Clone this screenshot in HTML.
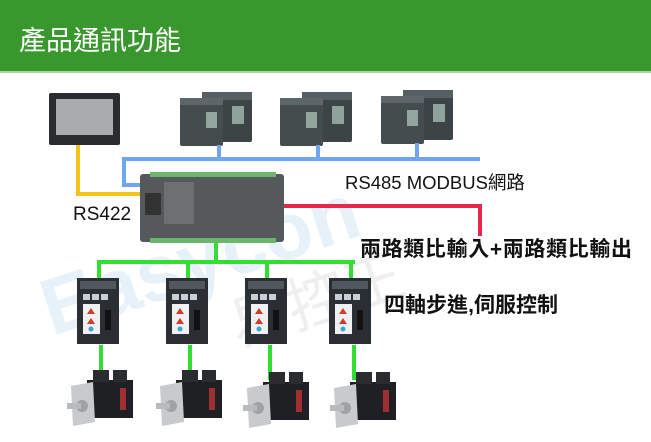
<!DOCTYPE html>
<html><head><meta charset="utf-8"><style>
html,body{margin:0;padding:0;background:#fff;width:651px;height:442px;overflow:hidden}
svg text{font-family:"Liberation Sans","Noto Sans CJK TC",sans-serif}
</style></head><body>
<svg width="651" height="442" viewBox="0 0 651 442" xmlns="http://www.w3.org/2000/svg">
<defs>
<g id="vfd">
  <rect x="22" y="0" width="50" height="50" rx="2" fill="#3d4446"/>
  <rect x="22" y="0" width="50" height="8" fill="#566062"/>
  <rect x="52" y="14" width="12" height="18" fill="#8fa39b"/>
  <rect x="0" y="6" width="43" height="48" rx="2" fill="#454c4e"/>
  <rect x="0" y="6" width="43" height="7" fill="#5d6769"/>
  <rect x="26" y="20" width="11" height="16" fill="#93a69e"/>
</g>
<g id="drv">
  <rect x="0" y="0" width="42" height="66" fill="#2b2e33"/>
  <rect x="3" y="3" width="36" height="8" fill="#51575f"/>
  <rect x="6" y="16" width="7" height="6" fill="#c9cfd6"/><rect x="15" y="16" width="7" height="6" fill="#c9cfd6"/><rect x="24" y="16" width="7" height="6" fill="#c9cfd6"/>
  <rect x="6" y="26" width="17" height="30" fill="#eef0f2"/>
  <polygon points="14,30 18,36 10,36" fill="#d23a2a"/><polygon points="14,40 18,46 10,46" fill="#d23a2a"/>
  <circle cx="14" cy="51" r="2.5" fill="#3aa6d8"/>
  <rect x="28" y="32" width="6" height="20" fill="#111"/>
</g>
<g id="mot">
  <rect x="20" y="10" width="46" height="38" fill="#1e2023"/>
  <rect x="26" y="0" width="16" height="12" fill="#2a2c30"/><rect x="46" y="0" width="14" height="12" fill="#2a2c30"/>
  <rect x="53" y="18" width="6" height="22" fill="#a03030"/>
  <polygon points="4,16 26,12 28,52 6,56" fill="#c8cacc"/>
  <circle cx="15" cy="36" r="6" fill="#9ea2a5"/>
  <rect x="0" y="33" width="14" height="6" fill="#b8bbbe"/>
</g>
</defs>
<rect x="0" y="0" width="651" height="71" fill="#38972d"/>
<rect x="0" y="71" width="651" height="2" fill="#a7d79b"/>
<text x="19" y="50" font-size="27" fill="#fff">產品通訊功能</text>

<text x="40" y="300" font-size="80" fill="#dcecf7" transform="rotate(-18 160 280)" font-weight="bold" opacity="0.7">Easycon</text>
<text x="230" y="340" font-size="60" fill="#efefef" transform="rotate(-18 260 320)">易控王</text>

<rect x="49" y="93" width="71" height="52" rx="2" fill="#2a2c2f"/>
<rect x="56" y="99" width="57" height="36" fill="#a9abad"/>
<use href="#vfd" x="180" y="92"/>
<use href="#vfd" x="280" y="92"/>
<use href="#vfd" x="381" y="90"/>
<g stroke="#6fa6ee" stroke-width="4" fill="none">
<polyline points="146,185 124,185 124,159 480,159"/>
<line x1="219" y1="145" x2="219" y2="159"/><line x1="318" y1="145" x2="318" y2="159"/><line x1="417" y1="143" x2="417" y2="159"/>
</g>
<polyline points="78,145 78,194 142,194" stroke="#f5c21a" stroke-width="4" fill="none"/>
<polyline points="283,206 480,206 480,236" stroke="#e6284c" stroke-width="4" fill="none"/>
<rect x="140" y="174" width="144" height="68" rx="3" fill="#55595b"/>
<rect x="150" y="172" width="126" height="5" fill="#6db56a"/>
<rect x="150" y="238" width="126" height="5" fill="#6db56a"/>
<rect x="145" y="193" width="16" height="22" fill="#333"/>
<rect x="164" y="182" width="30" height="42" fill="#6c7072"/>
<g stroke="#33dd33" stroke-width="4" fill="none">
<line x1="216" y1="242" x2="216" y2="262"/>
<line x1="97" y1="262" x2="355" y2="262"/>
<line x1="99" y1="262" x2="99" y2="279"/><line x1="188" y1="262" x2="188" y2="279"/><line x1="267" y1="262" x2="267" y2="279"/><line x1="351" y1="262" x2="351" y2="279"/>
<line x1="101" y1="345" x2="101" y2="374"/><line x1="190" y1="345" x2="190" y2="374"/><line x1="270" y1="345" x2="270" y2="380"/><line x1="354" y1="345" x2="354" y2="380"/>
</g>
<use href="#drv" x="77" y="278"/>
<use href="#drv" x="166" y="278"/>
<use href="#drv" x="245" y="278"/>
<use href="#drv" x="329" y="278"/>
<use href="#mot" x="67" y="370"/>
<use href="#mot" x="156" y="370"/>
<use href="#mot" x="243" y="372"/>
<use href="#mot" x="330" y="372"/>

<text x="345" y="189" font-size="18.5" fill="#111">RS485 MODBUS網路</text>
<text x="73" y="220" font-size="19" fill="#111">RS422</text>
<text x="360" y="256" font-size="21" font-weight="bold" fill="#111" textLength="272">兩路類比輸入+兩路類比輸出</text>
<text x="384" y="312" font-size="21" font-weight="bold" fill="#111" textLength="174">四軸步進,伺服控制</text>
</svg>
</body></html>
